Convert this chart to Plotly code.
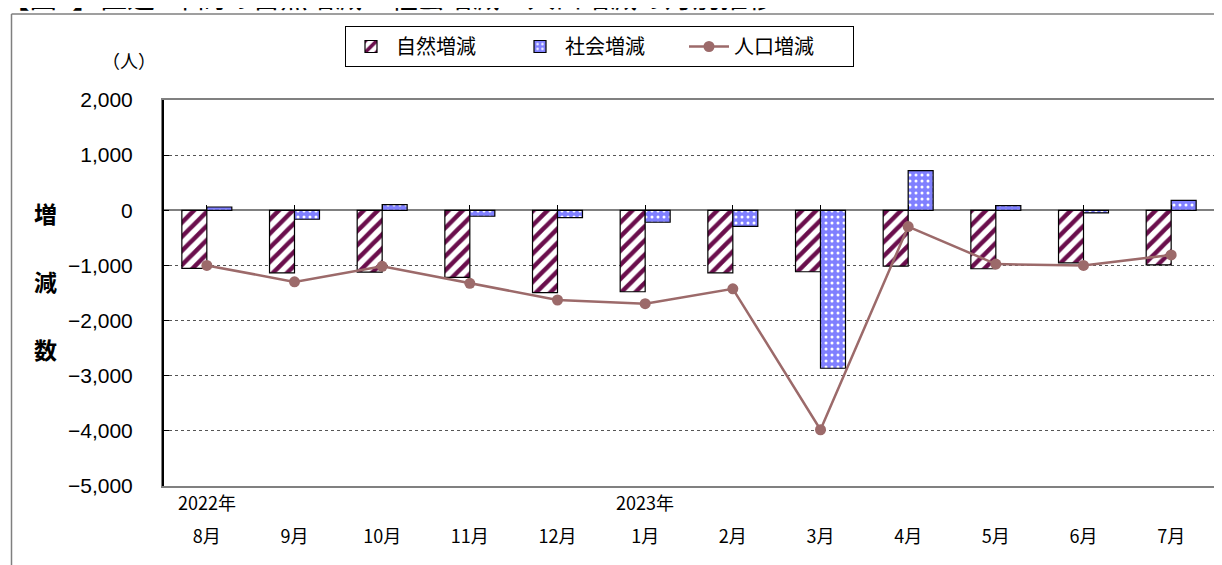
import plotly.graph_objects as go

months = ["8月", "9月", "10月", "11月", "12月", "1月", "2月", "3月", "4月", "5月", "6月", "7月"]
years = {"8月": "2022年", "1月": "2023年"}
natural = [-1055, -1135, -1120, -1217, -1495, -1477, -1134, -1115, -1013, -1060, -953, -990]
social = [60, -163, 103, -108, -132, -217, -290, -2865, 718, 85, -48, 181]
population = [-1000, -1298, -1017, -1325, -1627, -1694, -1424, -3980, -295, -975, -1001, -809]
y_ticks = [2000, 1000, 0, -1000, -2000, -3000, -4000, -5000]

# the page body adds an 8px margin around the figure
OFF = 8
W, H = 1222 - OFF, 565 - OFF
L, R, T, B = 163 - OFF, 7, 100 - OFF, 79
PW, PH = W - L - R, H - T - B


def px(x):
    return (x - OFF - L) / PW


def py(y):
    return (H - B - (y - OFF)) / PH


JP = "Noto Sans CJK JP"
NUM = "Liberation Sans, Arial, Noto Sans CJK JP"

fig = go.Figure()
fig.add_trace(go.Bar(
    x=months, y=natural, name="自然増減",
    marker=dict(color="white", line=dict(color="black", width=1.2),
                pattern=dict(shape="/", fgcolor="#6A0E4C", bgcolor="white", fgopacity=1,
                             size=10, solidity=0.45)),
))
fig.add_trace(go.Bar(
    x=months, y=social, name="社会増減",
    marker=dict(color="#8080FF", line=dict(color="black", width=1.2),
                pattern=dict(shape=".", fgcolor="white", bgcolor="#8080FF", fgopacity=1,
                             size=6, solidity=0.2)),
))
fig.add_trace(go.Scatter(
    x=months, y=population, name="人口増減", xaxis="x2", yaxis="y",
    mode="lines+markers",
    line=dict(color="#9C6A6A", width=2.5),
    marker=dict(color="#9C6A6A", size=11),
))

annotations = []
for m, yr in years.items():
    annotations.append(dict(x=m, xref="x", y=py(502), yref="paper", text=yr, showarrow=False,
                            font=dict(family=JP, size=18, color="black"), xanchor="center", yanchor="middle"))
annotations.append(dict(x=px(129), y=py(60), xref="paper", yref="paper", text="（人）", showarrow=False,
                        font=dict(family=JP, size=18, color="black"), xanchor="center", yanchor="middle"))
for ch, yy in zip(["増", "減", "数"], [213, 281, 349]):
    annotations.append(dict(x=px(45), y=py(yy), xref="paper", yref="paper", text="<b>" + ch + "</b>",
                            showarrow=False, font=dict(family=JP, size=23, color="black"),
                            xanchor="center", yanchor="middle"))
annotations.append(dict(x=px(0), y=py(18.5), xref="paper", yref="paper",
                        text="【図2】直近1年間の自然増減・社会増減・人口増減の月別推移",
                        showarrow=False, font=dict(family=JP, size=27.5, color="black"),
                        xanchor="left", yanchor="bottom"))

shapes = [
    dict(type="line", xref="paper", yref="paper", x0=px(11.5), x1=px(11.5), y0=py(14), y1=py(600),
         line=dict(color="#7F7F7F", width=1.5)),
    dict(type="line", xref="paper", yref="paper", x0=px(11.5), x1=px(1300), y0=py(14), y1=py(14),
         line=dict(color="#7F7F7F", width=1.5)),
    dict(type="line", xref="paper", yref="paper", x0=0, x1=0, y0=0, y1=1,
         line=dict(color="black", width=2)),
]

fig.update_layout(
    width=W, height=H,
    margin=dict(l=L, r=R, t=T, b=B, pad=0, autoexpand=False),
    paper_bgcolor="white", plot_bgcolor="white",
    barmode="group", bargap=0.43, bargroupgap=0,
    showlegend=True,
    legend=dict(orientation="h", x=px(345), y=py(26), xanchor="left", yanchor="top",
                bordercolor="black", borderwidth=1, bgcolor="white",
                font=dict(family=JP, size=20, color="black"),
                entrywidth=114, traceorder="normal", itemwidth=40),
    xaxis=dict(type="category", categoryorder="array", categoryarray=months,
               range=[-0.5, 11.5], showline=True, linecolor="#808080", linewidth=2, mirror=True,
               ticks="", showgrid=False, tickfont=dict(family=JP, size=18, color="black"),
               ticklabelstandoff=33, automargin=False),
    xaxis2=dict(type="category", categoryorder="array", categoryarray=months, matches="x",
                overlaying="x", anchor="free", position=py(210), side="top",
                ticks="outside", ticklen=5, tickcolor="black", tickwidth=1,
                showticklabels=False, showline=False, showgrid=False, automargin=False),
    yaxis=dict(range=[-5000, 2000], tickvals=y_ticks, tickformat=",",
               showline=True, linecolor="#808080", linewidth=2, mirror=True,
               ticks="inside", ticklen=6, tickcolor="black", tickwidth=1,
               showgrid=True, gridcolor="#555555", griddash="dot", gridwidth=1,
               zeroline=True, zerolinecolor="#808080", zerolinewidth=1.5,
               tickfont=dict(family=NUM, size=21, color="black"), ticklabelstandoff=24,
               automargin=False),
    annotations=annotations,
    shapes=shapes,
)

fig.write_html("out.html")
